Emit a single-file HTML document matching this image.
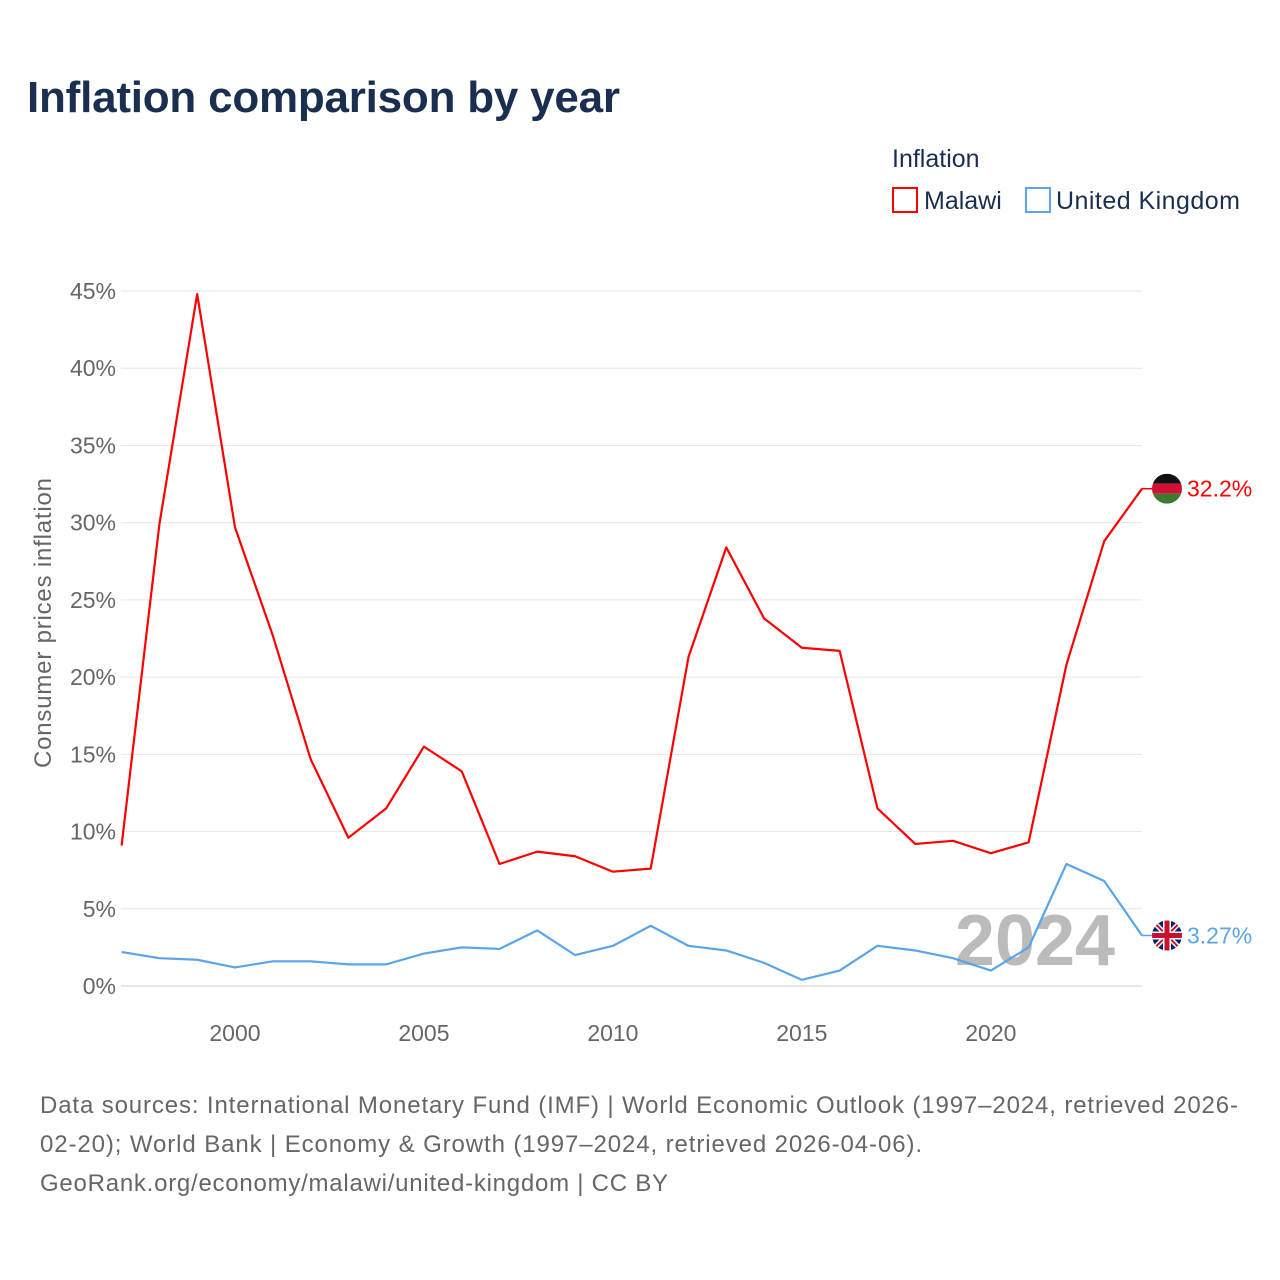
<!DOCTYPE html>
<html><head><meta charset="utf-8"><style>
body{margin:0;background:#fff;font-family:"Liberation Sans",sans-serif;}
#wrap{position:relative;width:1280px;height:1280px;overflow:hidden;}
</style></head><body>
<div id="wrap">
<svg id="chart" width="1280" height="1280" xmlns="http://www.w3.org/2000/svg">
<text x="27" y="112" font-size="44" font-weight="bold" fill="#1a2e4f" textLength="593">Inflation comparison by year</text>
<text x="892" y="167" font-size="25" fill="#1a2e4f">Inflation</text>
<g><rect x="893" y="188" width="24" height="24" fill="none" stroke="#ff0000" stroke-width="2"/><text x="924" y="209" font-size="25" fill="#1a2e4f">Malawi</text></g>
<g><rect x="1026" y="188" width="24" height="24" fill="none" stroke="#5aa5e8" stroke-width="2"/><text x="1056" y="209" font-size="25" fill="#1a2e4f" textLength="184">United Kingdom</text></g>
<g id="grid"></g>
<text x="1035" y="965" font-size="72" font-weight="bold" fill="#bbbbbb" text-anchor="middle">2024</text>
<g id="series"></g>
<text transform="translate(51,623) rotate(-90)" font-size="24" fill="#666" text-anchor="middle" textLength="290">Consumer prices inflation</text>
<text x="40" y="1113" font-size="24" fill="#666" textLength="1198">Data sources: International Monetary Fund (IMF) | World Economic Outlook (1997–2024, retrieved 2026-</text>
<text x="40" y="1152" font-size="24" fill="#666" textLength="882">02-20); World Bank | Economy &amp; Growth (1997–2024, retrieved 2026-04-06).</text>
<text x="40" y="1191" font-size="24" fill="#666" textLength="628">GeoRank.org/economy/malawi/united-kingdom | CC BY</text>
</svg></div>
<script>
const years=[1997,1998,1999,2000,2001,2002,2003,2004,2005,2006,2007,2008,2009,2010,2011,2012,2013,2014,2015,2016,2017,2018,2019,2020,2021,2022,2023,2024];
const malawi=[9.1,29.9,44.8,29.7,22.7,14.7,9.6,11.5,15.5,13.9,7.9,8.7,8.4,7.4,7.6,21.3,28.4,23.8,21.9,21.7,11.5,9.2,9.4,8.6,9.3,20.8,28.8,32.2];
const uk=[2.2,1.8,1.7,1.2,1.6,1.6,1.4,1.4,2.1,2.5,2.4,3.6,2.0,2.6,3.9,2.6,2.3,1.5,0.4,1.0,2.6,2.3,1.8,1.0,2.5,7.9,6.8,3.27];
const yTicks=[0,5,10,15,20,25,30,35,40,45];
const xTicks=[2000,2005,2010,2015,2020];
const NS="http://www.w3.org/2000/svg";
const x=v=>121.6+(v-1997)*(1142-121.6)/27;
const y=v=>986-v*(986-291)/45;
function mk(t,a,p){const e=document.createElementNS(NS,t);for(const k in a)e.setAttribute(k,a[k]);p.appendChild(e);return e;}
const g=document.getElementById('grid'),s=document.getElementById('series');
yTicks.forEach(t=>{
 const l=mk('line',{x1:121,x2:1142,y1:y(t),y2:y(t),stroke:t===0?'#ccc':'#e6e6e6','stroke-width':1},g);
 
 
 const tx=mk('text',{x:116,y:y(t)+8,'font-size':23,fill:'#666','text-anchor':'end'},g);tx.textContent=t+'%';
 
 
});
xTicks.forEach(t=>{
 const tx=mk('text',{x:x(t),y:1041,'font-size':23,fill:'#666','text-anchor':'middle'},g);tx.textContent=t;
 
 
});
function line(vals,color,name,label){
 const p=mk('polyline',{points:vals.map((v,i)=>x(years[i])+','+y(v)).join(' '),fill:'none',stroke:color,'stroke-width':2.2,'stroke-linejoin':'round'},s);
 
 
 const last=vals[vals.length-1],ly=y(last);
 mk('line',{x1:1142,x2:1156,y1:ly,y2:ly,stroke:color,'stroke-width':1.5},s);
 const t=mk('text',{x:1187,y:ly+8,'font-size':23,fill:color},s);t.textContent=label;
 
 
 return ly;
}
const my=line(malawi,'#ff0000','malawi-line','32.2%');
const uy=line(uk,'#5aa5e8','uk-line','3.27%');
const fm=mk('g',{},s);


const cm=mk('clipPath',{id:'cm'},fm);mk('circle',{cx:1167,cy:my,r:15},cm);
mk('rect',{x:1152,y:my-15,width:30,height:10,fill:'#111','clip-path':'url(#cm)'},fm);
mk('rect',{x:1152,y:my-5,width:30,height:10,fill:'#d21034','clip-path':'url(#cm)'},fm);
mk('rect',{x:1152,y:my+5,width:30,height:10,fill:'#3d7a2f','clip-path':'url(#cm)'},fm);
const fu=mk('g',{},s);


const cu=mk('clipPath',{id:'cu'},fu);mk('circle',{cx:1167,cy:uy,r:15},cu);
const gg=mk('g',{'clip-path':'url(#cu)'},fu);
mk('rect',{x:1152,y:uy-15,width:30,height:30,fill:'#012169'},gg);
mk('line',{x1:1152,y1:uy-15,x2:1182,y2:uy+15,stroke:'#fff','stroke-width':5},gg);
mk('line',{x1:1182,y1:uy-15,x2:1152,y2:uy+15,stroke:'#fff','stroke-width':5},gg);
mk('line',{x1:1152,y1:uy-15,x2:1182,y2:uy+15,stroke:'#c8102e','stroke-width':2},gg);
mk('line',{x1:1182,y1:uy-15,x2:1152,y2:uy+15,stroke:'#c8102e','stroke-width':2},gg);
mk('rect',{x:1152,y:uy-4,width:30,height:8,fill:'#fff'},gg);
mk('rect',{x:1163,y:uy-15,width:8,height:30,fill:'#fff'},gg);
mk('rect',{x:1152,y:uy-2.5,width:30,height:5,fill:'#c8102e'},gg);
mk('rect',{x:1164.5,y:uy-15,width:5,height:30,fill:'#c8102e'},gg);
</script>
</body></html>
